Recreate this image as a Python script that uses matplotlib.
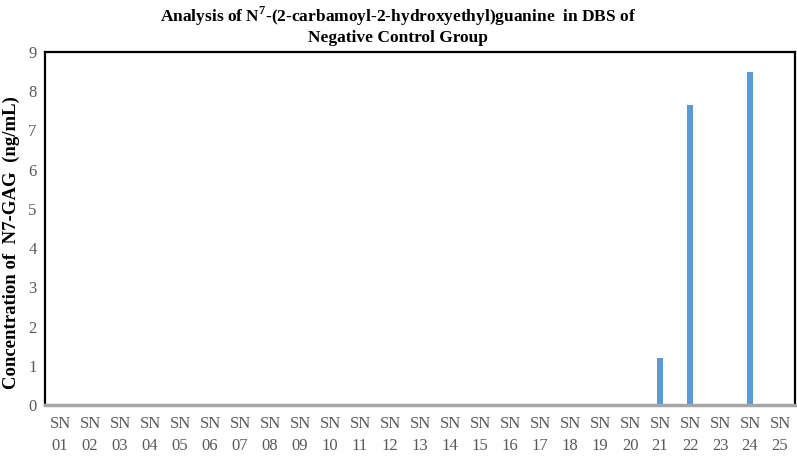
import matplotlib
matplotlib.use('Agg')
import matplotlib.pyplot as plt
import numpy as np

plt.rcParams['font.family'] = ['Liberation Serif', 'DejaVu Serif']
plt.rcParams['mathtext.fontset'] = 'custom'
plt.rcParams['mathtext.rm'] = 'Liberation Serif:bold'
plt.rcParams['mathtext.bf'] = 'Liberation Serif:bold'

samples = ['SN\n%02d' % i for i in range(1, 26)]
conc = [0, 0, 0, 0, 0, 0, 0, 0, 0, 0, 0, 0, 0, 0, 0, 0, 0, 0, 0, 0,
        1.2, 7.65, 0, 8.48, 0]

fig = plt.figure(figsize=(7.97, 4.58), dpi=100)
ax = fig.add_axes([0.0565, 0.1157, 0.941, 0.7708])

x = np.arange(len(samples))
ax.bar(x, conc, width=0.2, color='#5B9BD5')

ax.set_xlim(-0.5, len(samples) - 0.5)
ax.set_ylim(0, 9)
ax.set_yticks(range(0, 10))
ax.set_xticks(x)
ax.set_xticklabels(samples, linespacing=1.5)
ax.tick_params(axis='both', length=0, labelsize=12, colors='#595959')
ax.tick_params(axis='x', pad=8)
ax.tick_params(axis='y', pad=6)

for side in ['left', 'top', 'right']:
    ax.spines[side].set_linewidth(1.6)
    ax.spines[side].set_color('black')
ax.spines['bottom'].set_linewidth(2.5)
ax.spines['bottom'].set_color('#A6A6A6')

ax.set_ylabel('Concentration of  N7-GAG  (ng/mL)', fontsize=13.5, fontweight='bold')
ax.yaxis.set_label_coords(-0.033, 0.46)
fig.text(0.5, 0.99, 'Analysis of N$^{7}$-(2-carbamoyl-2-hydroxyethyl)guanine  in DBS of\nNegative Control Group',
         ha='center', va='top', fontsize=12.5, fontweight='bold', linespacing=1.15)

fig.savefig('out.png', dpi=100)
